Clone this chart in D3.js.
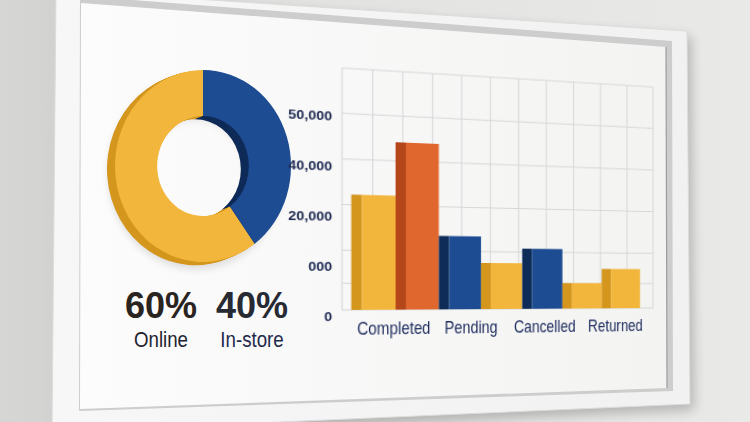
<!DOCTYPE html>
<html>
<head>
<meta charset="utf-8">
<script src="https://cdn.jsdelivr.net/npm/d3@7"></script>
<style>
  body { margin: 0; background: #e4e4e2; }
  #stage { position: relative; width: 750px; height: 422px; overflow: hidden; }
  #scene { position: absolute; left: 0; top: 0; }
  #bars { position: absolute; left: 0; top: 0; transform-origin: 0 0; }
  #bars svg { display: block; }
</style>
</head>
<body>
<div id="stage">
  <svg id="scene" width="750" height="422"></svg>
  <div id="bars"></div>
</div>
<script>
// sales channel share (donut)
const shareLabels = ["Online", "In-store"];
const shareValues = [60, 40];

// order status bars
const categories = ["Completed", "Pending", "Cancelled", "Returned"];
const barCategory = ["Completed", "Completed", "Pending", "Pending", "Cancelled", "Returned", "Returned"];
const barValue = [29400, 43200, 19200, 12200, 16100, 6900, 10800];
const barTone = ["gold", "orange", "navy", "gold", "navy", "gold", "gold"];

// axis text and grid as printed on the chart
const yTickLabels = ["50,000", "40,000", "20,000", "000", "0"];
const gridValues = [0, 6800, 15200, 26800, 38400, 50000, 61500];
const gridColumns = 11;

const toneFront = d3.scaleOrdinal().domain(["gold", "orange", "navy"]).range(["#f2b63c", "#e0682e", "#1d4c92"]);
const toneSide = d3.scaleOrdinal().domain(["gold", "orange", "navy"]).range(["#d4961d", "#b5461a", "#0f2b58"]);
const shareTone = d3.scaleOrdinal().domain(shareLabels).range(["gold", "navy"]);

// ---------- wall, frame, panel ----------
const scene = d3.select("#scene");
const defs = scene.append("defs");

let wall = defs.append("linearGradient").attr("id", "wall");
wall.append("stop").attr("offset", "0%").attr("stop-color", "#d6d6d4");
wall.append("stop").attr("offset", "8%").attr("stop-color", "#d2d2d0");
wall.append("stop").attr("offset", "40%").attr("stop-color", "#e2e2e0");
wall.append("stop").attr("offset", "100%").attr("stop-color", "#e9e9e7");

let panelGrad = defs.append("linearGradient").attr("id", "panel");
panelGrad.append("stop").attr("offset", "0%").attr("stop-color", "#fcfcfc");
panelGrad.append("stop").attr("offset", "100%").attr("stop-color", "#f3f3f2");

let frameGrad = defs.append("linearGradient").attr("id", "frame");
frameGrad.append("stop").attr("offset", "0%").attr("stop-color", "#f7f7f7");
frameGrad.append("stop").attr("offset", "100%").attr("stop-color", "#f1f1f1");

defs.append("filter").attr("id", "blur").attr("x", "-20%").attr("y", "-20%").attr("width", "140%").attr("height", "140%")
  .append("feGaussianBlur").attr("stdDeviation", 6);
defs.append("filter").attr("id", "blurSoft").attr("x", "-20%").attr("y", "-20%").attr("width", "140%").attr("height", "140%")
  .append("feGaussianBlur").attr("stdDeviation", 4);

const poly = d3.line().curve(d3.curveLinearClosed);

scene.append("rect").attr("width", 750).attr("height", 422).attr("fill", "url(#wall)");

const frameOuter = [[56, -10], [687, 31], [690, 404], [52, 432]];
scene.append("path").attr("d", poly(frameOuter.map(p => [p[0] + 4, p[1] + 6])))
  .attr("fill", "#000").attr("opacity", 0.22).attr("filter", "url(#blur)");
scene.append("path").attr("d", poly([[48, -10], [57, -10], [53, 432], [44, 432]])).attr("fill", "#d2d2d1");
scene.append("path").attr("d", poly(frameOuter)).attr("fill", "url(#frame)")
  .attr("stroke", "#dcdcdc").attr("stroke-width", 1).attr("stroke-linejoin", "round");
scene.append("path").attr("d", poly([[80, -4], [672, 41], [673, 391], [79, 411]])).attr("fill", "#cdcdcd");
scene.append("path").attr("d", poly([[81, 3], [666, 47], [667, 388], [80, 409]])).attr("fill", "url(#panel)");
scene.append("path").attr("d", d3.line()([[666, 47], [667, 388]])).attr("stroke", "#9c9c9c").attr("stroke-width", 1.2);

// ---------- donut ----------
const cx = 203, cy = 166, outerR = 96, innerR = 50, squash = 88 / 96;
const start = 2 * Math.PI * shareValues[1] / d3.sum(shareValues);
const pie = d3.pie().sort(null).startAngle(start).endAngle(start + 2 * Math.PI);
const arc = d3.arc().innerRadius(innerR).outerRadius(outerR);
const slices = pie(shareValues);

scene.append("path")
  .attr("transform", `translate(${cx - 7},${cy + 7}) scale(${squash},1)`)
  .attr("d", d3.arc().innerRadius(innerR + 4).outerRadius(outerR)({ startAngle: 0, endAngle: 2 * Math.PI }))
  .attr("fill", "#000").attr("opacity", 0.12).attr("filter", "url(#blurSoft)");

const donut = scene.append("g").attr("transform", `translate(${cx},${cy})`);
d3.range(8, 0, -1).forEach(t => {
  donut.append("g").attr("transform", `translate(${-t},${t * 0.4}) scale(${squash},1)`)
    .selectAll("path").data(slices).join("path")
    .attr("d", arc).attr("fill", (d, i) => toneSide(shareTone(shareLabels[i])));
});
donut.append("g").attr("transform", `scale(${squash},1)`)
  .selectAll("path").data(slices).join("path")
  .attr("d", arc).attr("fill", (d, i) => toneFront(shareTone(shareLabels[i])));

const shareX = d3.scalePoint().domain(shareLabels).range([161, 252]);
scene.append("g").selectAll("text").data(shareLabels).join("text")
  .attr("x", d => shareX(d)).attr("y", 318)
  .attr("text-anchor", "middle")
  .attr("font-family", "'Liberation Sans', Arial, sans-serif")
  .attr("font-weight", 700).attr("font-size", 36)
  .attr("fill", (d, i) => i === 0 ? "#2a2421" : "#272a33")
  .text((d, i) => shareValues[i] + "%");
scene.append("g").selectAll("text").data(shareLabels).join("text")
  .attr("transform", d => `translate(${shareX(d)},347) scale(0.85,1)`)
  .attr("text-anchor", "middle")
  .attr("font-family", "'Liberation Sans', Arial, sans-serif")
  .attr("font-size", 22)
  .attr("fill", (d, i) => i === 0 ? "#1f2430" : "#1f2a4c")
  .text(d => d);

// ---------- bar chart (flat, then put in perspective) ----------
const Wf = 313, Hf = 242, m = { l: 70, t: 12, r: 14, b: 40 };
const svg = d3.select("#bars").append("svg")
  .attr("width", Wf + m.l + m.r).attr("height", Hf + m.t + m.b);
const g = svg.append("g").attr("transform", `translate(${m.l},${m.t})`);

const y = d3.scaleLinear().domain([0, 61500]).range([Hf, 0]);
const xCol = d3.scaleLinear().domain([0, gridColumns]).range([0, Wf]);
const xBar = d3.scaleBand().domain(d3.range(barValue.length)).range([xCol(0.3), xCol(10.5)]);
const xCat = d3.scaleBand().domain(categories).range([xCol(0.4), xCol(10.88)]);
const sideW = xCol(0.35);

g.append("g").selectAll("line").data(gridValues).join("line")
  .attr("x1", 0).attr("x2", Wf).attr("y1", d => y(d)).attr("y2", d => y(d))
  .attr("stroke", "#d6d6d6").attr("stroke-width", 1);
g.append("g").selectAll("line").data(d3.range(gridColumns + 1)).join("line")
  .attr("x1", d => xCol(d)).attr("x2", d => xCol(d)).attr("y1", 0).attr("y2", Hf)
  .attr("stroke", "#d6d6d6").attr("stroke-width", 1);

const bar = g.append("g").selectAll("g").data(barValue).join("g");
bar.append("rect")
  .attr("x", (d, i) => xBar(i)).attr("width", sideW)
  .attr("y", d => y(d)).attr("height", d => Hf - y(d))
  .attr("fill", (d, i) => toneSide(barTone[i]));
bar.append("rect")
  .attr("x", (d, i) => xBar(i) + sideW).attr("width", xBar.bandwidth() - sideW)
  .attr("y", d => y(d)).attr("height", d => Hf - y(d))
  .attr("fill", (d, i) => toneFront(barTone[i]));

const yLab = d3.scalePoint().domain(yTickLabels).range([y(50000) + 3, Hf + 6]);
g.append("g").call(d3.axisLeft(yLab).tickSize(0).tickPadding(9))
  .call(ax => ax.select(".domain").remove())
  .selectAll("text")
  .attr("font-family", "'Liberation Sans', Arial, sans-serif")
  .attr("font-weight", 700).attr("font-size", 13).attr("fill", "#1f2a52");

g.append("g").selectAll("text").data(categories).join("text")
  .attr("transform", d => `translate(${xCat(d) + xCat.bandwidth() / 2},${Hf + 25}) scale(0.82,1)`)
  .attr("text-anchor", "middle")
  .attr("font-family", "'Liberation Sans', Arial, sans-serif")
  .attr("font-size", 17.5).attr("fill", "#1b2a5c")
  .text(d => d);

// map the flat plot rectangle onto the tilted one in the picture
function homography(src, dst) {
  const A = [], B = [];
  src.forEach(([u, v], i) => {
    const [px, py] = dst[i];
    A.push([u, v, 1, 0, 0, 0, -u * px, -v * px]); B.push(px);
    A.push([0, 0, 0, u, v, 1, -u * py, -v * py]); B.push(py);
  });
  for (let c = 0; c < 8; c++) {
    let p = c;
    for (let r = c + 1; r < 8; r++) if (Math.abs(A[r][c]) > Math.abs(A[p][c])) p = r;
    [A[c], A[p]] = [A[p], A[c]]; [B[c], B[p]] = [B[p], B[c]];
    for (let r = 0; r < 8; r++) {
      if (r === c) continue;
      const f = A[r][c] / A[c][c];
      for (let k = c; k < 8; k++) A[r][k] -= f * A[c][k];
      B[r] -= f * B[c];
    }
  }
  return B.map((b, i) => b / A[i][i]);
}
const src = [[m.l, m.t], [m.l + Wf, m.t], [m.l + Wf, m.t + Hf], [m.l, m.t + Hf]];
const dst = [[342, 68], [653, 87], [653, 308], [342, 310]];
const [a, b, c, d, e, f, gg, hh] = homography(src, dst);
d3.select("#bars").style("transform", `matrix3d(${a},${d},0,${gg},${b},${e},0,${hh},0,0,1,0,${c},${f},0,1)`);
</script>
</body>
</html>
